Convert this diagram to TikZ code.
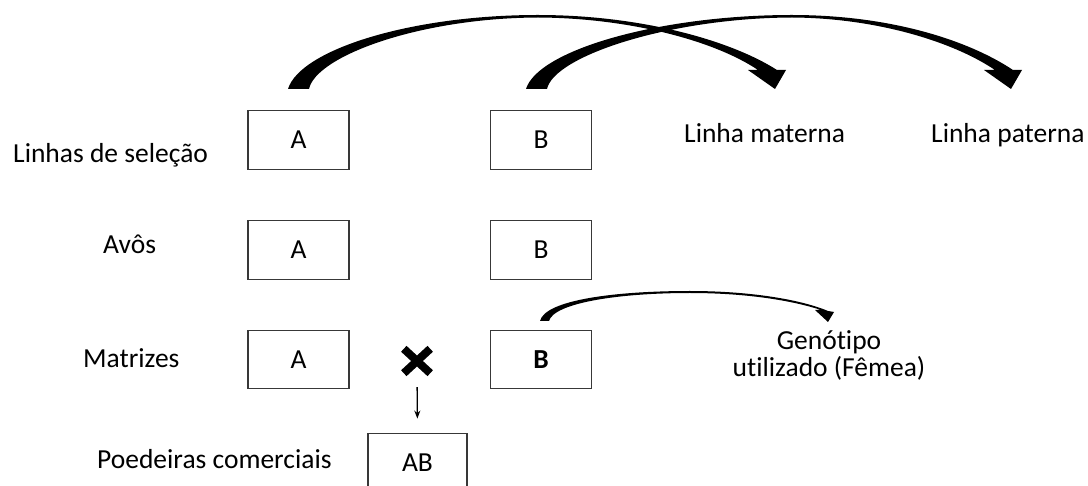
\documentclass[tikz,border=0pt]{standalone}
\usepackage{fontspec}
\setmainfont{Carlito}[Ligatures=NoCommon]
\usetikzlibrary{arrows.meta}
\begin{document}
\begin{tikzpicture}[x=1pt,y=-1pt,
  every node/.style={font=\fontsize{27.5}{33}\selectfont, inner sep=0pt},
  gbox/.style={draw=black!78, line width=1.3pt, minimum width=101pt, minimum height=58.5pt},
  lbl/.style={anchor=base west},
  curved/.style={fill=black}]
\useasboundingbox (0,0) rectangle (1088,486);
\fill[white] (0,0) rectangle (1088,486);

% generation boxes
\node[gbox] (a1) at (298.5,140) {A};
\node[gbox] (b1) at (541,140) {B};
\node[gbox] (a2) at (298.5,250) {A};
\node[gbox] (b2) at (541,250) {B};
\node[gbox] (a3) at (298.5,359.5) {A};
\node[gbox, font=\fontsize{27.5}{33}\selectfont\bfseries] (b3) at (541,359.5) {B};
\node[gbox, minimum width=99pt] (ab) at (417.5,462.5) {AB};

% row labels
\node[lbl] (l1) at (13,163) {Linhas de seleção};
\node[lbl] (l2) at (103,254) {Avôs};
\node[lbl] (l3) at (83,368) {Matrizes};
\node[lbl] (l4) at (97,468) {Poedeiras comerciais};
\node[lbl] (mat) at (684,142.7) {Linha materna};
\node[lbl] (pat) at (931,142.7) {Linha paterna};
\node[align=center, anchor=base, font=\fontsize{27.5}{27}\selectfont] (gen) at (829,377) {Genótipo\\utilizado (Fêmea)};

% tapered curved arrows
\fill[curved] (288,89) .. controls (300,50) and (410,15) .. (538,15)
  .. controls (640,15) and (730,40) .. (777,70) -- (786,70) -- (775,89) -- (748,70) -- (758,70)
  .. controls (715,41) and (630,18) .. (538,17.5)
  .. controls (420,18) and (316,56) .. (309,89) -- cycle;
\fill[curved] (526,89) .. controls (538,50) and (660,15) .. (792,15)
  .. controls (890,15) and (968,40) .. (1013,70) -- (1022,70) -- (1011,89) -- (984,70) -- (995,70)
  .. controls (952,41) and (875,18) .. (792,17.5)
  .. controls (670,18) and (554,56) .. (547,89) -- cycle;
\fill[curved] (540,321) .. controls (545,300) and (615,291) .. (690,291)
  .. controls (752,291) and (802,300) .. (828,311) -- (834,312) -- (828,322) -- (815,310) -- (821,310)
  .. controls (797,302) and (752,293) .. (690,293)
  .. controls (618,293) and (554,303) .. (549,321) -- cycle;

% cross between the parent lines and the resulting commercial layer
\node[minimum width=26pt, minimum height=24pt] (cross) at (417,361) {};
\draw[line width=8pt] (cross.north west) -- (cross.south east)
  (cross.north east) -- (cross.south west);
\draw[line width=1.3pt, -{Stealth[length=8pt,width=6pt]}, shorten <=14pt, shorten >=14pt]
  (cross.south) -- (ab.north);
\end{tikzpicture}
\end{document}
